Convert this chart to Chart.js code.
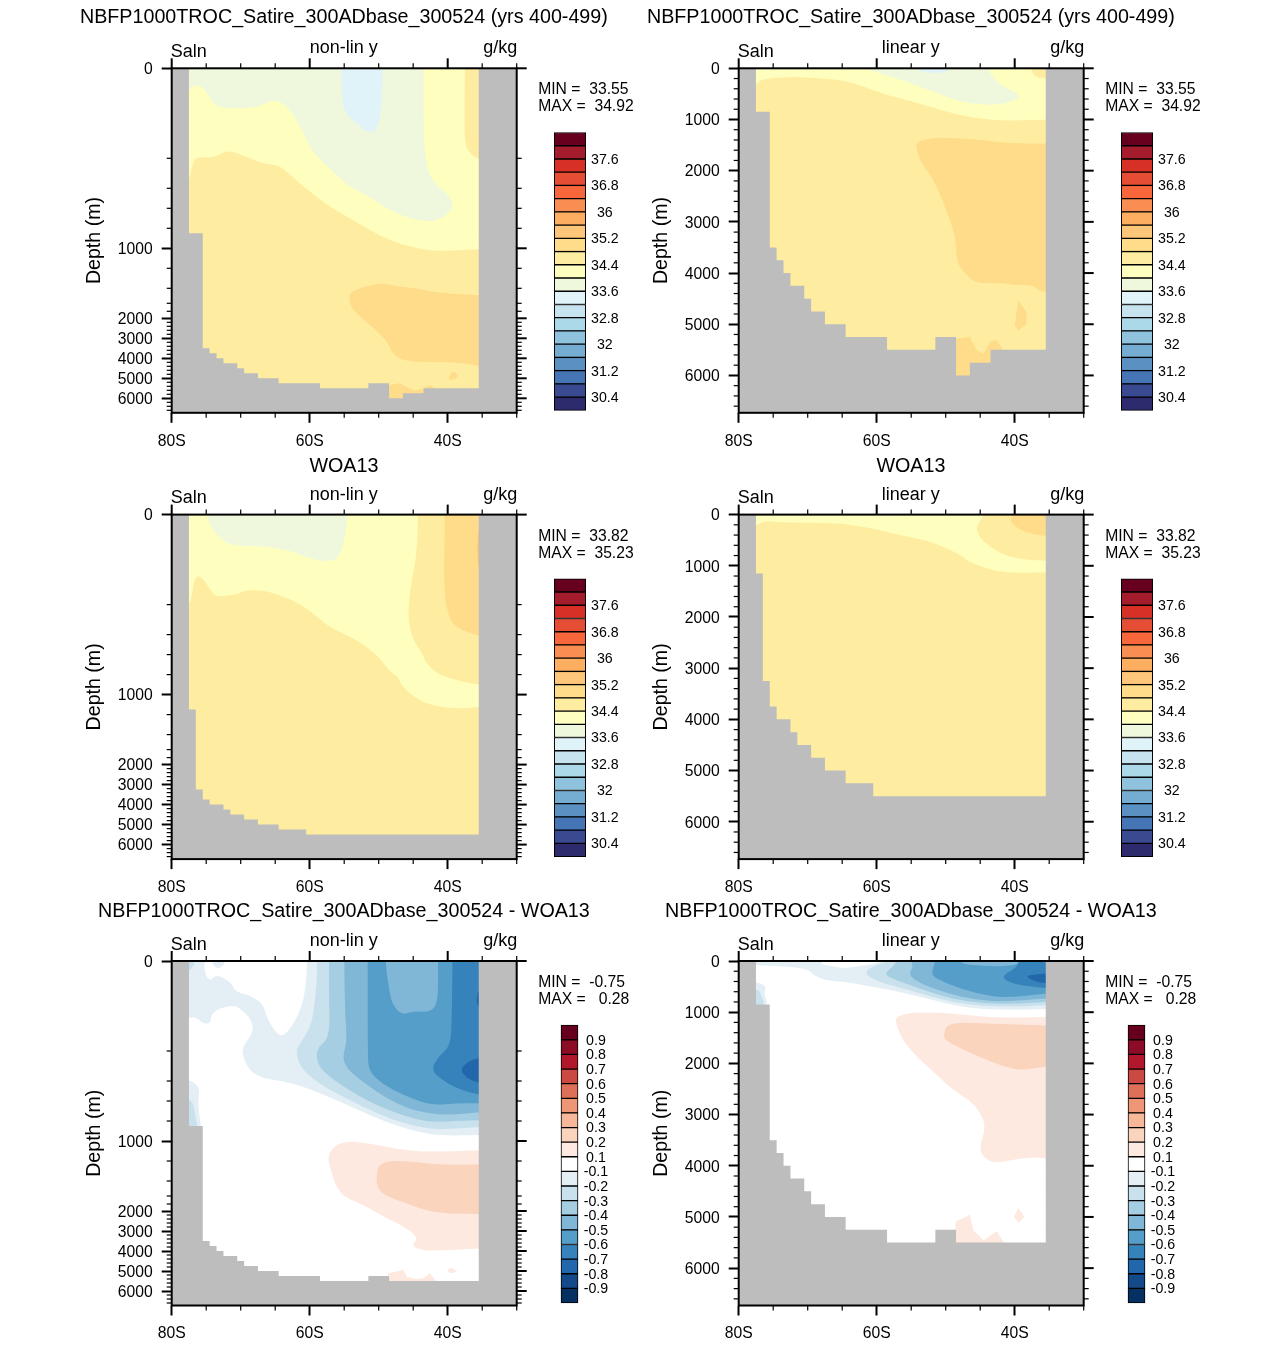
<!DOCTYPE html>
<html><head><meta charset="utf-8">
<script src="https://cdn.jsdelivr.net/npm/chart.js@4"></script>
<style>
html,body{margin:0;padding:0;background:#fff;}
body{position:relative;width:1285px;height:1345px;overflow:hidden;font-family:"Liberation Sans",Arial,sans-serif;color:#000;}
canvas{position:absolute;}
.h{position:absolute;white-space:pre;font-size:19.72px;line-height:22px;}
.t{position:absolute;white-space:pre;font-size:18px;line-height:20px;}
.s{position:absolute;white-space:pre;font-size:15.7px;line-height:18px;}
</style></head><body>
<script>
// ---------- labels ----------
const xMajorTicks=[-80,-60,-40];
const xMinorTicks=[-75,-70,-65,-55,-50,-45,-35,-30];
const yMajorTicks=[0,1000,2000,3000,4000,5000,6000];
const yMinorTicks=[200,400,600,800,1200,1400,1600,1800,2200,2400,2600,2800,3200,3400,3600,3800,4200,4400,4600,4800,5200,5400,5600,5800,6200,6400,6600];
const salnLevels=[30,30.4,30.8,31.2,31.6,32,32.4,32.8,33.2,33.6,34,34.4,34.8,35.2,35.6,36,36.4,36.8,37.2,37.6,38,38.4];
const diffLevels=[-1,-0.9,-0.8,-0.7,-0.6,-0.5,-0.4,-0.3,-0.2,-0.1,0.1,0.2,0.3,0.4,0.5,0.6,0.7,0.8,0.9,1];
const salnColors=['#2d2a6e','#3a4a90','#4575b4','#5a91c2','#74add1','#8fc3dd','#abd9e9','#c6e3ef','#e0f3f8','#eff8dc','#feffbf','#feeda1','#fedc8a','#fec679','#fdae61','#f98e52','#f8673c','#e64d35','#d73027','#a51c2d','#67001f'];
const diffColors=['#053061','#14498a','#2266ac','#3682ba','#559ec9','#80b7d6','#a6cee3','#c9e1ed','#e4eff5','#ffffff','#fde9df','#fbd4bd','#f7b799','#ee9676','#de7059','#ca4a43','#b2182b','#8d0c25','#67001f'];
const titleModel='NBFP1000TROC_Satire_300ADbase_300524 (yrs 400-499)';
const titleObs='WOA13';
const titleDiff='NBFP1000TROC_Satire_300ADbase_300524 - WOA13';
const statsModel=['MIN =  33.55','MAX =  34.92'];
const statsObs=['MIN =  33.82','MAX =  35.23'];
const statsDiff=['MIN =  -0.75','MAX =   0.28'];

// ---------- sea floor: left edge latitude of each cell, and its depth ----------
const floorModelLat=[-77.5,-75.5,-74.5,-73.5,-72.5,-70.5,-69.5,-67.5,-64.5,-58.5,-51.5,-48.5,-46.5,-43.5,-35.5];
const floorModelDepth=[850,3500,3750,4000,4250,4500,4750,5000,5250,5500,5250,6000,5750,5500];
const floorObsLat=[-77.5,-76.5,-75.5,-74.5,-72.5,-71.5,-69.5,-67.5,-64.5,-60.5,-35.5];
const floorObsDepth=[1150,3250,3750,4000,4250,4500,4750,5000,5250,5500];
const floorDiffLat=[-77.5,-75.5,-74.5,-73.5,-72.5,-70.5,-69.5,-67.5,-64.5,-58.5,-51.5,-48.5,-35.5];
const floorDiffDepth=[850,3500,3750,4000,4250,4500,4750,5000,5250,5500,5250,5500];

// ---------- contour regions [lat, depth] ----------
const everywhere=[[-90,-600],[-25,-600],[-25,7500],[-90,7500]];
// model, non-linear panel
const m1Yellow=[[-85,420],[-78,420],[-77.5,344],[-76.86,211],[-76.14,197],[-73.96,199],[-72.5,186],[-71.5,184],[-70.1,190],[-66.7,238],[-64.8,242],[-63.6,278],[-60.9,389],[-57.5,567],[-54.6,683],[-51.3,817],[-48.4,923],[-45,990],[-42.1,1027],[-38.7,1020],[-35.5,1007],[-33,1005],[-33,-500],[-85,-500]];
const m1Green=[[-85,52],[-77.5,52],[-76.86,39],[-76.14,37],[-75.4,44],[-74.4,67],[-73.7,84],[-71.5,90],[-67.7,87],[-66.2,76],[-64.8,70],[-63.3,84],[-61.9,115],[-60.4,159],[-59.7,185],[-57.1,267],[-54.6,378],[-52.2,450],[-49.3,583],[-46.4,683],[-43.5,733],[-41.1,717],[-39.4,617],[-39.2,550],[-40.1,450],[-41.6,378],[-42.8,300],[-43.3,189],[-43.5,137],[-43.5,0],[-43.5,-300],[-85,-300]];
const m1Blue=[[-55.4,-300],[-55.4,0],[-55.3,78],[-54.6,104],[-53.2,122],[-51.5,143],[-50.3,139],[-49.6,93],[-49.4,0],[-49.4,-300]];
const m1TopRight=[[-37.5,-300],[-37.5,0],[-37.6,137],[-37.4,174],[-36.5,193],[-35.5,207],[-33,210],[-33,-300]];
const m1Deep=[[-54.2,1467],[-53.2,1413],[-51.3,1367],[-49.3,1350],[-46.9,1383],[-44.5,1400],[-41.1,1467],[-35.5,1489],[-33,1495],[-33,4450],[-35.5,4417],[-37.7,4217],[-42.6,4167],[-45.9,4167],[-47.9,3833],[-48.5,3333],[-49.8,2750],[-52.2,2083],[-53.9,1725],[-54.3,1556]];
const m1Spot=[[-39.9,5083],[-39.4,4583],[-38.2,4917],[-39.7,5117]];
const m1Floor=[[-48.6,6500],[-48.6,5333],[-46.9,5250],[-45.9,5450],[-44.7,5617],[-43.5,5500],[-42.6,5333],[-41.6,5533],[-41.6,6500]];
// model, linear panel
const m2Yellow=[[-85,330],[-77.5,326],[-76.9,228],[-75.5,196],[-72.1,163],[-68.7,196],[-64.8,228],[-61.9,359],[-58.6,522],[-54.7,652],[-50.8,815],[-47,945],[-43.6,1011],[-39.7,1024],[-35.5,998],[-33,1000],[-33,-500],[-85,-500]];
const m2Green=[[-61.9,-300],[-61.9,0],[-59.5,98],[-55.7,261],[-51.8,456],[-47.9,652],[-44.5,717],[-41.6,698],[-39.2,587],[-39.5,489],[-42.1,326],[-43.6,98],[-43.7,0],[-43.7,-300]];
const m2Blue=[[-54.7,-300],[-54.7,0],[-52.8,85],[-50.8,98],[-49.6,46],[-49.5,0],[-49.5,-300]];
const m2TopRight=[[-37.5,-300],[-37.5,0],[-37.5,98],[-36.8,183],[-35.5,209],[-33,210],[-33,-300]];
const m2Deep=[[-54.2,1467],[-53.5,1402],[-51.3,1350],[-47.9,1369],[-44.5,1402],[-40.7,1467],[-35.5,1467],[-33,1467],[-33,4400],[-35.5,4381],[-36.6,4336],[-37.3,4238],[-39.7,4238],[-42.1,4186],[-45.5,4205],[-47,4042],[-48.4,3814],[-48.6,3293],[-49.4,2967],[-50.1,2706],[-51.3,2315],[-52.5,2021],[-53.7,1826],[-54.3,1532]];
const m2Spot=[[-39.5,4531],[-38.3,4760],[-38.3,4988],[-39.5,5131],[-40,5020],[-39.7,4727]];
const m2Floor=[[-48.6,6500],[-48.6,5281],[-46.5,5249],[-45.5,5509],[-44.5,5575],[-43.6,5346],[-42.6,5301],[-41.7,5509],[-41.7,6500]];
// observations, non-linear panel
const o1Yellow=[[-85,300],[-77.5,238],[-76.9,161],[-76.5,135],[-75.5,140],[-74.4,168],[-73.6,183],[-71.5,179],[-70.3,176],[-69.4,168],[-66.7,168],[-64.8,177],[-61.9,194],[-59.7,249],[-57.5,338],[-55.1,393],[-52.7,473],[-50.8,573],[-49.6,657],[-48.4,773],[-47.1,823],[-46.9,890],[-45,1023],[-42.6,1107],[-38.7,1143],[-35.5,1123],[-33,1120],[-33,-500],[-85,-500]];
const o1Right=[[-44.3,-300],[-44.3,0],[-44.5,94],[-45.5,168],[-45.8,303],[-45,457],[-43.5,607],[-43.3,673],[-41.6,790],[-39.7,840],[-35.5,907],[-33,910],[-33,-300]];
const o1Deep=[[-40.4,-300],[-40.4,0],[-40.6,176],[-39.7,303],[-38.5,360],[-35.5,417],[-33,420],[-33,-300]];
const o1Strip=[[-35.5,20],[-35.8,80],[-35.5,130],[-33,130],[-33,20]];
const o1Green=[[-74.8,-300],[-74.8,0],[-74.4,27],[-73,53],[-71.3,70],[-66.7,70],[-62.9,79],[-60,98],[-57.5,105],[-55.8,98],[-55.1,64],[-54.6,20],[-54.5,0],[-54.5,-300]];
// observations, linear panel
const o2Yellow=[[-85,240],[-77.5,241],[-76.4,111],[-74,156],[-69.2,156],[-64.8,176],[-60.5,274],[-56.6,404],[-52.8,502],[-49.6,665],[-47.2,841],[-47,893],[-44.5,1037],[-42.1,1121],[-38.3,1141],[-35.5,1121],[-33,1120],[-33,-500],[-85,-500]];
const o2Right=[[-44.3,-300],[-44.3,0],[-45.7,241],[-45,469],[-43.3,665],[-40.9,828],[-38.3,880],[-35.5,906],[-33,906],[-33,-300]];
const o2Deep=[[-40.4,-300],[-40.4,0],[-40.7,143],[-39.2,306],[-37.3,385],[-35.5,417],[-33,417],[-33,-300]];
const o2Corner=[[-35.8,-300],[-35.8,0],[-35.5,98],[-33,98],[-33,-300]];
const o2Green=[[-60.5,-200],[-60.5,0],[-58,30],[-55.2,0],[-55.2,-200]];
// difference, non-linear panel
const d1Lvl1=[[-85,-300],[-75.2,-300],[-75.2,0],[-75.3,24],[-74.5,46],[-73.6,31],[-72.3,39],[-71.3,50],[-70.8,68],[-68.2,79],[-66.7,98],[-66.2,127],[-64.5,168],[-63.3,161],[-61.6,120],[-60.7,76],[-60.3,0],[-60.3,-300],[-33,-300],[-33,940],[-35.5,940],[-41.1,947],[-44.5,907],[-48.4,823],[-51.3,740],[-55.1,623],[-58.5,523],[-61.9,433],[-64.8,396],[-66.7,382],[-68.6,338],[-69.6,249],[-69.8,194],[-69.1,179],[-68.2,157],[-68.4,131],[-70.1,105],[-71.1,98],[-73,105],[-74.2,116],[-74.4,139],[-75.4,139],[-76.6,124],[-77.5,127],[-85,127]];
const d1Patch=[[-74.2,-100],[-74.2,0],[-73.9,13],[-73,17],[-72.1,3],[-72.1,-100]];
const d1WallLight=[[-79,367],[-76.4,423],[-75.9,507],[-76.2,573],[-75.9,807],[-75.6,900],[-79,900]];
const d1WallDark=[[-79,550],[-77,590],[-76.7,700],[-76.3,850],[-76.2,900],[-79,900]];
const d1TopCorner=[[-76.5,-300],[-76.5,0],[-77.2,20],[-78,25],[-79,25],[-79,-300]];
const d1Lvl2=[[-58.9,-300],[-58.9,0],[-59,53],[-59.5,120],[-60,150],[-61.4,183],[-62,204],[-61.4,304],[-59.5,390],[-57.1,490],[-54.2,590],[-51.3,690],[-47.9,790],[-44.5,857],[-41.1,890],[-35.5,857],[-33,857],[-33,-300]];
const d1Lvl3=[[-57.2,-300],[-57.2,0],[-57.2,90],[-57.1,142],[-57.5,176],[-58.7,190],[-59.1,238],[-58.5,316],[-56.6,390],[-53.2,540],[-49.3,673],[-45.9,757],[-43,807],[-40.1,807],[-35.5,790],[-33,790],[-33,-300]];
const d1Lvl4=[[-55,-300],[-55,0],[-54.9,105],[-54.6,176],[-55.1,216],[-55.1,273],[-54.2,338],[-51.7,440],[-48.8,573],[-45.9,673],[-43,723],[-39.7,740],[-35.5,713],[-33,713],[-33,-300]];
const d1Lvl5=[[-51.6,-300],[-51.6,0],[-51.6,227],[-51.4,338],[-49.3,440],[-46.4,540],[-44,607],[-42.1,640],[-38.7,623],[-35.5,623],[-33,623],[-33,-300]];
const d1Island=[[-49.1,-300],[-49.1,0],[-48.5,61],[-48.1,94],[-46.7,120],[-45,111],[-42.6,114],[-41.4,94],[-41.4,0],[-41.4,-300]];
const d1Lvl6=[[-39.3,-300],[-39.3,0],[-39.4,127],[-39.6,190],[-41.4,238],[-42.4,327],[-40.9,390],[-38.7,473],[-35.5,540],[-33,540],[-33,-300]];
const d1Lvl7=[[-33,244],[-35.5,244],[-37.2,273],[-38.2,327],[-37.2,382],[-35.5,423],[-33,423]];
const d1Lvl7b=[[-33,61],[-35.5,61],[-35.9,87],[-35.5,105],[-33,105]];
const d1Red1=[[-57.4,1157],[-56.6,1057],[-54.6,1000],[-51.3,1023],[-47.4,1080],[-42.6,1113],[-35.5,1090],[-33,1090],[-33,3900],[-35.5,3867],[-39.7,3950],[-43.5,4000],[-45,3783],[-45,3617],[-44.3,3367],[-45.9,2867],[-48.8,2367],[-52.2,1830],[-55.1,1617],[-56.3,1453],[-57,1273]];
const d1Red2=[[-50.3,1290],[-49.6,1223],[-47.9,1193],[-44.5,1213],[-40.1,1240],[-35.5,1233],[-33,1233],[-33,2350],[-35.5,2117],[-39.2,2150],[-43,2000],[-45.9,1783],[-48.8,1617],[-50.3,1500]];
const d1Red3=[[-48.6,6500],[-48.6,5117],[-46.4,4950],[-45.9,5283],[-44.5,5400],[-43.5,5367],[-42.6,5117],[-41.6,5533],[-41.6,6500]];
const d1RedSpot=[[-40.1,4950],[-39.4,4833],[-38.6,5033],[-39.7,5117]];
// difference, linear panel
const d2Lvl1=[[-33,-300],[-59.8,-300],[-59.8,0],[-60,46],[-62.9,111],[-64.8,144],[-66.5,98],[-68,65],[-68,0],[-68,-300],[-85,-300],[-85,65],[-73.5,91],[-69.7,176],[-69.2,274],[-67.2,391],[-64.8,404],[-60.5,502],[-55.7,632],[-51.8,763],[-47.9,893],[-44.5,939],[-39.7,958],[-35.5,939],[-33,939]];
const d2Lvl2=[[-33,-300],[-58,-300],[-58,0],[-60,65],[-61.9,215],[-60.5,372],[-56.6,522],[-52.8,665],[-49,809],[-44.5,880],[-39.7,893],[-35.5,861],[-33,861]];
const d2Lvl3=[[-33,-300],[-57.1,-300],[-57.1,0],[-57.6,111],[-59.1,261],[-56.6,404],[-52.8,587],[-49,743],[-44.5,828],[-39.7,841],[-35.5,795],[-33,795]];
const d2Lvl4=[[-33,-300],[-55.1,-300],[-55.1,0],[-54.7,111],[-55.4,274],[-53.7,437],[-49.9,632],[-45.5,763],[-41.2,795],[-35.5,730],[-33,730]];
const d2Lvl5=[[-33,-300],[-51.5,-300],[-51.5,0],[-52,209],[-51.8,306],[-49.4,469],[-45.5,632],[-41.6,730],[-35.5,632],[-33,632]];
const d2Island=[[-48.2,-300],[-48.2,0],[-47,78],[-42.1,111],[-39.5,65],[-39.3,0],[-39.3,-300]];
const d2Lvl6=[[-33,-300],[-39.4,-300],[-39.4,0],[-39.7,130],[-42.1,306],[-40.2,456],[-35.5,535],[-33,535]];
const d2Lvl7=[[-33,241],[-35.5,241],[-37.8,274],[-38.3,306],[-37.3,391],[-35.5,437],[-33,437]];
const d2WallLight=[[-79,372],[-75.9,469],[-76.4,632],[-75.6,900],[-79,900]];
const d2WallDark=[[-79,535],[-77,560],[-76.7,700],[-76.1,900],[-79,900]];
const d2Red1=[[-57.5,1154],[-56.6,1056],[-54.7,1004],[-50.8,1004],[-47,1056],[-42.1,1108],[-35.5,1095],[-33,1095],[-33,3870],[-35.5,3860],[-37.3,3827],[-40.7,3892],[-43.3,3958],[-45,3762],[-44.9,3534],[-44.2,3240],[-45,2947],[-46.5,2719],[-48.9,2523],[-51.8,2165],[-54.2,1871],[-56.1,1578]];
const d2Red2=[[-50.3,1447],[-49.9,1252],[-47.9,1200],[-44.1,1226],[-39.7,1239],[-35.5,1265],[-33,1265],[-33,2060],[-35.5,2054],[-38.7,2132],[-40.7,2099],[-44.1,1936],[-47.4,1741],[-50.1,1545]];
const d2Red3=[[-48.6,6500],[-48.6,5099],[-46.5,4955],[-46,5262],[-44.5,5457],[-42.6,5281],[-41.5,5509],[-41.5,6500]];
const d2RedSpot=[[-39.5,4825],[-38.6,5001],[-39.4,5112],[-40.1,5001]];

// ---------- non-linear depth axis: depth -> pixels below the top of a 344.5 px axis ----------
const stretchDepth=[0,200,400,600,800,1000,1200,1400,1600,1800,2000,6725];
const stretchPos=[0,90,120,140,160,180,200,220,235,243,250,344.5];
class NonLinScale extends Chart.LinearScale{
  getPixelForValue(v){
    if(v===null||v===undefined)return NaN;
    let i=0;while(i<stretchDepth.length-2&&v>stretchDepth[i+1])i++;
    const p=stretchPos[i]+(v-stretchDepth[i])*(stretchPos[i+1]-stretchPos[i])/(stretchDepth[i+1]-stretchDepth[i]);
    return this.top+p/344.5*this.height;
  }
  getValueForPixel(px){
    const p=(px-this.top)/this.height*344.5;
    let i=0;while(i<stretchPos.length-2&&p>stretchPos[i+1])i++;
    return stretchDepth[i]+(p-stretchPos[i])*(stretchDepth[i+1]-stretchDepth[i])/(stretchPos[i+1]-stretchPos[i]);
  }
}
NonLinScale.id='nonlin';
NonLinScale.defaults=Chart.LinearScale.defaults;
Chart.register(NonLinScale);

const FONT='"Liberation Sans",Arial,sans-serif';
const GRAY='#bdbdbd';

// fills every region from its points, which the scales have placed
const regionFill={id:'regionFill',
  beforeDatasetDraw(chart,args){
    const ds=chart.data.datasets[args.index];
    const pts=args.meta.data,a=chart.chartArea,c=chart.ctx,n=pts.length;
    c.save();c.beginPath();c.rect(a.left,a.top,a.width,a.height);c.clip();
    c.beginPath();
    if(ds.sharp){
      pts.forEach((p,i)=>i?c.lineTo(p.x,p.y):c.moveTo(p.x,p.y));
    }else{
      const mid=(p,q)=>({x:(p.x+q.x)/2,y:(p.y+q.y)/2});
      const s=mid(pts[n-1],pts[0]);c.moveTo(s.x,s.y);
      for(let i=0;i<n;i++){const m=mid(pts[i],pts[(i+1)%n]);c.quadraticCurveTo(pts[i].x,pts[i].y,m.x,m.y);}
    }
    c.closePath();c.fillStyle=ds.backgroundColor;c.fill();c.restore();
  }};
// frame, minor ticks, and the mirrored top and right ticks
const frameTicks={id:'frameTicks',
  afterDraw(chart){
    const a=chart.chartArea,c=chart.ctx,x=chart.scales.x,y=chart.scales.y;
    const seg=(x0,y0,x1,y1,w)=>{c.lineWidth=w;c.beginPath();c.moveTo(x0,y0);c.lineTo(x1,y1);c.stroke();};
    c.save();c.strokeStyle='#000';c.lineCap='butt';
    xMinorTicks.forEach(v=>{const p=x.getPixelForValue(v);seg(p,a.top,p,a.top-5,1.2);seg(p,a.bottom,p,a.bottom+5,1.2);});
    xMajorTicks.forEach(v=>{const p=x.getPixelForValue(v);seg(p,a.top,p,a.top-10,2);});
    yMinorTicks.forEach(v=>{const p=y.getPixelForValue(v);seg(a.left,p,a.left-5,p,1.2);seg(a.right,p,a.right+5,p,1.2);});
    yMajorTicks.forEach(v=>{const p=y.getPixelForValue(v);seg(a.right,p,a.right+10,p,2);});
    c.lineWidth=2;c.strokeRect(a.left,a.top,a.width,a.height);
    c.restore();
  }};

function floorShape(lat,depth){
  const pts=[[-90,-600],[lat[0],-600]];
  depth.forEach((d,i)=>{pts.push([lat[i],d]);pts.push([lat[i+1],d]);});
  pts.push([lat[lat.length-1],-600],[-25,-600],[-25,7500],[-90,7500]);
  return pts;
}
function addPanel(o){
  const cv=document.createElement('canvas');
  const L=Math.floor(o.plotLeft)-112, W=569, H=460, T=Math.floor(o.plotTop)-68;
  cv.width=W;cv.height=H;cv.style.left=L+'px';cv.style.top=T+'px';
  document.body.appendChild(cv);
  const plotL=o.plotLeft-L, plotT=o.plotTop-T;
  const all=[...o.regions,{pts:floorShape(o.floorLat,o.floorDepth),color:GRAY,sharp:true}];
  new Chart(cv,{type:'scatter',
    data:{datasets:all.map((r,i)=>({data:r.pts.map(([x,y])=>({x,y})),backgroundColor:r.color,sharp:!!r.sharp,order:all.length-i,pointRadius:0,showLine:false,clip:false}))},
    options:{responsive:false,animation:false,events:[],devicePixelRatio:1,
      layout:{padding:{top:plotT,left:0,right:W-plotL-345,bottom:0}},
      plugins:{legend:{display:false},tooltip:{enabled:false},title:{display:false}},
      scales:{
        x:{type:'linear',min:-80,max:-30,position:'bottom',
          afterFit(s){s.height=H-plotT-344.5;},
          afterBuildTicks(s){s.ticks=xMajorTicks.map(value=>({value}));},
          grid:{drawOnChartArea:false,drawTicks:true,tickLength:10,tickWidth:2,tickColor:'#000'},
          border:{display:false},
          ticks:{autoSkip:false,maxRotation:0,padding:9,color:'#000',font:{family:FONT,size:15.7},callback:v=>Math.abs(v)+'S'}},
        y:{type:o.yType,min:0,max:o.yType==='nonlin'?6725:6730,reverse:o.yType!=='nonlin',position:'left',
          afterFit(s){s.width=plotL;},
          afterBuildTicks(s){s.ticks=yMajorTicks.map(value=>({value}));},
          grid:{drawOnChartArea:false,drawTicks:true,tickLength:10,tickWidth:2,tickColor:'#000'},
          border:{display:false},
          title:{display:true,text:'Depth (m)',color:'#000',font:{family:FONT,size:19.6,weight:'normal',lineHeight:1.2},padding:{top:23.5,bottom:0}},
          ticks:{autoSkip:false,padding:9,labelOffset:1.5,color:'#000',font:{family:FONT,size:15.7},callback:v=>String(v)}}
      }},
    plugins:[regionFill,frameTicks]});
  const put=(cls,txt,left,top,extra)=>{const d=document.createElement('div');d.className=cls;d.textContent=txt;d.style.left=left+'px';d.style.top=top+'px';if(extra)Object.assign(d.style,extra);document.body.appendChild(d);};
  put('h',o.title,o.plotLeft+172.2,o.titleBase-17.8,{transform:'translateX(-50%)'});
  put('t','Saln',o.plotLeft-1,o.plotTop-27.5);
  put('t',o.yLabel,o.plotLeft+172,o.plotTop-31,{transform:'translateX(-50%)'});
  put('t','g/kg',o.plotLeft+345.5,o.plotTop-31,{transform:'translateX(-100%)'});
  put('s',o.stats[0],o.plotLeft+366.5,o.plotTop+12);
  put('s',o.stats[1],o.plotLeft+366.5,o.plotTop+29);
  addBar(o);
}
function addBar(o){
  const levels=o.isDiff?diffLevels:salnLevels, colors=o.isDiff?diffColors:salnColors;
  const bl=o.plotLeft+(o.isDiff?389.3:382.6), bw=o.isDiff?17:31.4, bt=o.plotTop+64.2, bh=277.8;
  const cv=document.createElement('canvas');
  const L=Math.floor(bl)-2,T=Math.floor(bt)-20,W=Math.ceil(bw)+60,H=Math.ceil(bh)+40;
  cv.width=W;cv.height=H;cv.style.left=L+'px';cv.style.top=T+'px';
  document.body.appendChild(cv);
  const pl=bl-L, pt=bt-T;
  const step=o.isDiff?1:2;
  new Chart(cv,{type:'bar',
    data:{labels:['key'],datasets:colors.map((col,i)=>({data:[[i,i+1]],backgroundColor:col,borderColor:'#000',borderWidth:1,borderSkipped:false,clip:false,barPercentage:1,categoryPercentage:1}))},
    options:{responsive:false,animation:false,events:[],devicePixelRatio:1,
      layout:{padding:{left:pl,top:pt,right:0,bottom:H-pt-bh}},
      plugins:{legend:{display:false},tooltip:{enabled:false},title:{display:false}},
      scales:{
        x:{display:false,stacked:true},
        y:{type:'linear',min:0,max:colors.length,position:'right',stacked:false,
          afterFit(s){s.width=W-pl-bw;},
          afterBuildTicks(s){const t=[];for(let i=1;i<levels.length-1;i+=step)t.push({value:i});s.ticks=t;},
          grid:{display:false,drawTicks:false,tickLength:0},border:{display:false},
          ticks:{autoSkip:false,crossAlign:'center',padding:o.isDiff?5.7:5.3,labelOffset:1,color:'#000',font:{family:FONT,size:14.2},callback:v=>String(levels[v])}}
      }}});
}
const cols=[171.7,738.7], rows=[68.3,514.6,961], titleBases=[22.7,472,916.7];
const sc=salnColors, dc=diffColors;
const R=(pts,color,sharp)=>({pts,color,sharp});
const S={yellow:sc[10],green:sc[9],blue:sc[8],base:sc[11],deep:sc[12],orange:sc[13]};
addPanel({plotLeft:cols[0],plotTop:rows[0],titleBase:titleBases[0],yType:'nonlin',yLabel:'non-lin y',title:titleModel,stats:statsModel,floorLat:floorModelLat,floorDepth:floorModelDepth,
  regions:[R(everywhere,S.base,true),R(m1Yellow,S.yellow),R(m1Green,S.green),R(m1Blue,S.blue),R(m1TopRight,S.base),R(m1Deep,S.deep),R(m1Spot,S.deep),R(m1Floor,S.deep,true)]});
addPanel({plotLeft:cols[1],plotTop:rows[0],titleBase:titleBases[0],yType:'linear',yLabel:'linear y',title:titleModel,stats:statsModel,floorLat:floorModelLat,floorDepth:floorModelDepth,
  regions:[R(everywhere,S.base,true),R(m2Yellow,S.yellow),R(m2Green,S.green),R(m2Blue,S.blue),R(m2TopRight,S.base),R(m2Deep,S.deep),R(m2Spot,S.deep,true),R(m2Floor,S.deep,true)]});
addPanel({plotLeft:cols[0],plotTop:rows[1],titleBase:titleBases[1],yType:'nonlin',yLabel:'non-lin y',title:titleObs,stats:statsObs,floorLat:floorObsLat,floorDepth:floorObsDepth,
  regions:[R(everywhere,S.base,true),R(o1Yellow,S.yellow),R(o1Green,S.green),R(o1Right,S.base),R(o1Deep,S.deep),R(o1Strip,S.orange)]});
addPanel({plotLeft:cols[1],plotTop:rows[1],titleBase:titleBases[1],yType:'linear',yLabel:'linear y',title:titleObs,stats:statsObs,floorLat:floorObsLat,floorDepth:floorObsDepth,
  regions:[R(everywhere,S.base,true),R(o2Yellow,S.yellow),R(o2Green,S.green),R(o2Right,S.base),R(o2Deep,S.deep),R(o2Corner,S.orange)]});
addPanel({plotLeft:cols[0],plotTop:rows[2],titleBase:titleBases[2],yType:'nonlin',yLabel:'non-lin y',title:titleDiff,stats:statsDiff,isDiff:true,floorLat:floorDiffLat,floorDepth:floorDiffDepth,
  regions:[R(everywhere,dc[9],true),R(d1Lvl1,dc[8]),R(d1Patch,dc[8]),R(d1WallLight,dc[8]),R(d1WallDark,dc[7]),R(d1TopCorner,dc[7]),R(d1Lvl2,dc[7]),R(d1Lvl3,dc[6]),R(d1Lvl4,dc[5]),R(d1Lvl5,dc[4]),R(d1Island,dc[5]),R(d1Lvl6,dc[3]),R(d1Lvl7,dc[2]),R(d1Lvl7b,dc[2]),R(d1Red1,dc[10]),R(d1Red2,dc[11]),R(d1Red3,dc[10],true),R(d1RedSpot,dc[10],true)]});
addPanel({plotLeft:cols[1],plotTop:rows[2],titleBase:titleBases[2],yType:'linear',yLabel:'linear y',title:titleDiff,stats:statsDiff,isDiff:true,floorLat:floorDiffLat,floorDepth:floorDiffDepth,
  regions:[R(everywhere,dc[9],true),R(d2Lvl1,dc[8]),R(d2WallLight,dc[8]),R(d2WallDark,dc[7]),R(d2Lvl2,dc[7]),R(d2Lvl3,dc[6]),R(d2Lvl4,dc[5]),R(d2Lvl5,dc[4]),R(d2Island,dc[5]),R(d2Lvl6,dc[3]),R(d2Lvl7,dc[2]),R(d2Red1,dc[10]),R(d2Red2,dc[11]),R(d2Red3,dc[10],true),R(d2RedSpot,dc[10],true)]});
</script>
</body></html>
